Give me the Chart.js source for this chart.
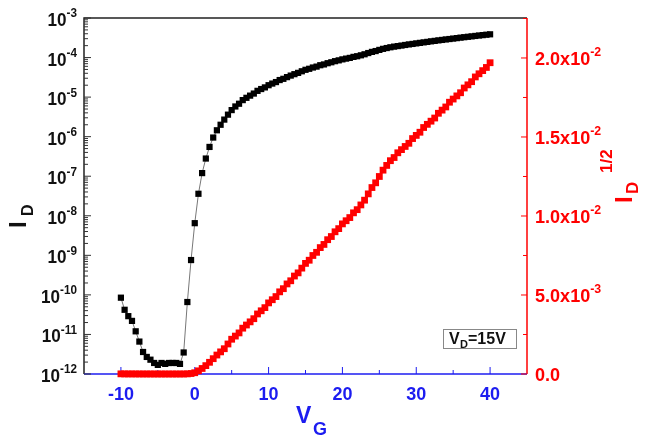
<!DOCTYPE html>
<html>
<head>
<meta charset="utf-8">
<script src="https://cdn.jsdelivr.net/npm/chart.js@4.4.1/dist/chart.umd.min.js"></script>
<style>
  html, body { margin: 0; padding: 0; background: #fff; }
  #wrap { width: 650px; height: 435px; position: relative; }
</style>
</head>
<body>
<div id="wrap"><canvas id="chart" width="650" height="435"></canvas></div>
<script>
// gate voltage sweep (V)
const vg = [
  -10, -9.5, -9, -8.5, -8, -7.5, -7, -6.5, -6, -5.5, -5, -4.5, -4, -3.5, -3, -2.5, -2, -1.5, -1, -0.5,
  0, 0.5, 1, 1.5, 2, 2.5, 3, 3.5, 4, 4.5, 5, 5.5, 6, 6.5, 7, 7.5, 8, 8.5, 9, 9.5,
  10, 10.5, 11, 11.5, 12, 12.5, 13, 13.5, 14, 14.5, 15, 15.5, 16, 16.5, 17, 17.5, 18, 18.5, 19, 19.5,
  20, 20.5, 21, 21.5, 22, 22.5, 23, 23.5, 24, 24.5, 25, 25.5, 26, 26.5, 27, 27.5, 28, 28.5, 29, 29.5,
  30, 30.5, 31, 31.5, 32, 32.5, 33, 33.5, 34, 34.5, 35, 35.5, 36, 36.5, 37, 37.5, 38, 38.5, 39, 39.5, 40
];

// drain current I_D (A), left log axis
const idData = [
  8.5e-11, 4.2e-11, 2.9e-11, 2.2e-11, 1.2e-11, 6.6e-12, 3.6e-12, 2.7e-12, 2.3e-12, 1.9e-12,
  1.7e-12, 1.9e-12, 1.8e-12, 1.9e-12, 1.9e-12, 1.9e-12, 1.8e-12, 3.5e-12, 6.6e-11, 7.6e-10,
  6.5e-9, 3.6e-8, 1.2e-7, 2.8e-7, 5.5e-7, 9.5e-7, 1.45e-6, 2.0e-6, 2.7e-6, 3.6e-6,
  4.7e-6, 5.8e-6, 6.8e-6, 8.4e-6, 9.6e-6, 1.09e-5, 1.23e-5, 1.44e-5, 1.6e-5, 1.76e-5,
  2.0e-5, 2.2e-5, 2.4e-5, 2.7e-5, 2.9e-5, 3.2e-5, 3.5e-5, 3.8e-5, 4.1e-5, 4.5e-5,
  4.9e-5, 5.2e-5, 5.6e-5, 5.9e-5, 6.4e-5, 6.7e-5, 7.2e-5, 7.6e-5, 8.1e-5, 8.5e-5,
  9.0e-5, 9.4e-5, 9.8e-5, 1.04e-4, 1.08e-4, 1.14e-4, 1.21e-4, 1.30e-4, 1.39e-4, 1.46e-4,
  1.56e-4, 1.66e-4, 1.74e-4, 1.82e-4, 1.89e-4, 1.95e-4, 2.01e-4, 2.08e-4, 2.15e-4, 2.21e-4,
  2.28e-4, 2.35e-4, 2.42e-4, 2.49e-4, 2.57e-4, 2.64e-4, 2.72e-4, 2.79e-4, 2.87e-4, 2.94e-4,
  3.02e-4, 3.10e-4, 3.19e-4, 3.27e-4, 3.35e-4, 3.43e-4, 3.52e-4, 3.61e-4, 3.69e-4, 3.78e-4, 3.87e-4
];

// sqrt(I_D), right linear axis
const sqrtIdData = [
  0.00001, 0.000006, 0.000005, 0.000005, 0.000003, 0.000003, 0.000002, 0.000002, 0.000002, 0.000001,
  0.000001, 0.000001, 0.000001, 0.000001, 0.000001, 0.000001, 0.000001, 0.000002, 0.000008, 0.00003,
  0.00008, 0.0002, 0.00035, 0.00053, 0.00074, 0.00097, 0.0012, 0.0014, 0.0016, 0.0019,
  0.0022, 0.0024, 0.0026, 0.0029, 0.0031, 0.0033, 0.0035, 0.0038, 0.0040, 0.0042,
  0.0045, 0.0047, 0.0049, 0.0052, 0.0054, 0.0057, 0.0059, 0.0062, 0.0064, 0.0067,
  0.0070, 0.0072, 0.0075, 0.0077, 0.0080, 0.0082, 0.0085, 0.0087, 0.0090, 0.0092,
  0.0095, 0.0097, 0.0099, 0.0102, 0.0104, 0.0107, 0.0110, 0.0114, 0.0118, 0.0121,
  0.0125, 0.0129, 0.0132, 0.0135, 0.0137, 0.0140, 0.0142, 0.0144, 0.0146, 0.0149,
  0.0151, 0.0153, 0.0156, 0.0158, 0.0160, 0.0162, 0.0165, 0.0167, 0.0169, 0.0172,
  0.0174, 0.0176, 0.0178, 0.0181, 0.0183, 0.0185, 0.0188, 0.0190, 0.0192, 0.0194, 0.0197
];

// tick labels
const xTicks = [-10, 0, 10, 20, 30, 40];
const xMinorTicks = [-15, -5, 5, 15, 25, 35];
const leftDecades = [-3, -4, -5, -6, -7, -8, -9, -10, -11, -12];
const rightTicks = [0, 0.005, 0.01, 0.015, 0.02];
const rightTickBase = ['0.0', '5.0x10', '1.0x10', '1.5x10', '2.0x10'];
const rightTickExp = ['', '-3', '-2', '-2', '-2'];
const rightMinorTicks = [0.0025, 0.0075, 0.0125, 0.0175, 0.0225];

const BLUE = '#1c1cf0';
const RED = '#ff0000';
const FONT = '"Liberation Sans", Arial, sans-serif';

function font(size) { return 'bold ' + size + 'px ' + FONT; }

// text with a raised exponent; align 'right' or 'left' around x
function drawSup(ctx, base, exp, x, baseline, size, expSize, color, align, sx) {
    ctx.save();
    ctx.fillStyle = color;
    ctx.textBaseline = 'alphabetic';
    ctx.textAlign = 'left';
    ctx.font = font(size);
    const bw = ctx.measureText(base).width * sx;
    ctx.font = font(expSize);
    const ew = exp ? ctx.measureText(exp).width * sx : 0;
    const x0 = align === 'right' ? x - bw - ew : x;
    ctx.translate(x0, 0);
    ctx.scale(sx, 1);
    ctx.font = font(size);
    ctx.fillText(base, 0, baseline);
    if (exp) {
        ctx.font = font(expSize);
        ctx.fillText(exp, bw / sx, baseline - size * 0.45);
    }
    ctx.restore();
}

const axesPlugin = {
    id: 'axesPlugin',
    beforeDatasetsDraw(chart) {
        const ctx = chart.ctx;
        const a = chart.chartArea;
        const xs = chart.scales.x, yl = chart.scales.y, yr = chart.scales.y2;
        ctx.save();
        ctx.lineWidth = 1.5;

        // frame
        ctx.strokeStyle = '#222';
        ctx.beginPath();
        ctx.moveTo(a.left, a.bottom); ctx.lineTo(a.left, a.top); ctx.lineTo(a.right, a.top);
        ctx.stroke();
        ctx.strokeStyle = RED;
        ctx.beginPath(); ctx.moveTo(a.right, a.top); ctx.lineTo(a.right, a.bottom); ctx.stroke();
        ctx.strokeStyle = BLUE;
        ctx.beginPath(); ctx.moveTo(a.left, a.bottom); ctx.lineTo(a.right, a.bottom); ctx.stroke();

        ctx.lineWidth = 1;
        // bottom ticks (inward)
        ctx.strokeStyle = BLUE;
        xTicks.forEach(v => {
            const px = xs.getPixelForValue(v);
            ctx.beginPath(); ctx.moveTo(px, a.bottom); ctx.lineTo(px, a.bottom - 7); ctx.stroke();
        });
        xMinorTicks.forEach(v => {
            const px = xs.getPixelForValue(v);
            if (px <= a.left + 1) return;
            ctx.beginPath(); ctx.moveTo(px, a.bottom); ctx.lineTo(px, a.bottom - 4); ctx.stroke();
        });

        // left log ticks
        ctx.strokeStyle = '#333';
        leftDecades.forEach(e => {
            const py = yl.getPixelForValue(Math.pow(10, e));
            ctx.beginPath(); ctx.moveTo(a.left, py); ctx.lineTo(a.left + 7, py); ctx.stroke();
            if (e > -3) return;
            [2, 3, 4, 5, 6, 7, 8, 9].forEach(m => {
                const v = m * Math.pow(10, e);
                if (v > 1e-3) return;
                const pm = yl.getPixelForValue(v);
                ctx.beginPath(); ctx.moveTo(a.left, pm); ctx.lineTo(a.left + 4, pm); ctx.stroke();
            });
        });

        // right ticks
        ctx.strokeStyle = RED;
        rightTicks.forEach(v => {
            const py = yr.getPixelForValue(v);
            ctx.beginPath(); ctx.moveTo(a.right, py); ctx.lineTo(a.right - 6, py); ctx.stroke();
        });
        rightMinorTicks.forEach(v => {
            const py = yr.getPixelForValue(v);
            if (py < a.top) return;
            ctx.beginPath(); ctx.moveTo(a.right, py); ctx.lineTo(a.right - 4, py); ctx.stroke();
        });
        ctx.restore();
    },
    afterDraw(chart) {
        const ctx = chart.ctx;
        const a = chart.chartArea;
        const xs = chart.scales.x, yl = chart.scales.y, yr = chart.scales.y2;

        // x tick labels
        ctx.save();
        ctx.font = font(18);
        ctx.fillStyle = BLUE;
        ctx.textAlign = 'center';
        ctx.textBaseline = 'alphabetic';
        xTicks.forEach(v => ctx.fillText(String(v), xs.getPixelForValue(v), 400));
        ctx.restore();

        // left decade labels
        leftDecades.forEach(e => {
            const py = yl.getPixelForValue(Math.pow(10, e));
            drawSup(ctx, '10', String(e), 77, py + 8, 19, 13, '#111', 'right', 0.9);
        });

        // right labels
        rightTicks.forEach((v, i) => {
            const py = yr.getPixelForValue(v);
            drawSup(ctx, rightTickBase[i], rightTickExp[i], 535, py + 7, 19, 13, RED, 'left', 0.95);
        });

        // x title V_G
        ctx.save();
        ctx.fillStyle = BLUE;
        ctx.textBaseline = 'alphabetic';
        ctx.textAlign = 'left';
        ctx.font = font(23);
        ctx.fillText('V', 296, 423);
        ctx.font = font(18);
        ctx.fillText('G', 313, 435);
        ctx.restore();

        // left title I_D (rotated)
        ctx.save();
        ctx.fillStyle = '#111';
        ctx.translate(26, 228);
        ctx.rotate(-Math.PI / 2);
        ctx.textAlign = 'left';
        ctx.textBaseline = 'alphabetic';
        ctx.font = font(24);
        ctx.fillText('I', 0, 0);
        ctx.font = font(16);
        ctx.fillText('D', 12, 7);
        ctx.restore();

        // right title I_D^1/2 (rotated)
        ctx.save();
        ctx.fillStyle = RED;
        ctx.translate(632, 203);
        ctx.rotate(-Math.PI / 2);
        ctx.textAlign = 'left';
        ctx.textBaseline = 'alphabetic';
        ctx.font = font(24);
        ctx.fillText('I', 0, 0);
        ctx.font = font(17);
        ctx.fillText('D', 9, 6);
        ctx.font = font(17);
        ctx.fillText('1/2', 30, -20);
        ctx.restore();

        // V_D = 15V box
        ctx.save();
        ctx.strokeStyle = '#888';
        ctx.lineWidth = 1;
        ctx.strokeRect(443.5, 329.5, 73, 19);
        ctx.fillStyle = '#111';
        ctx.textBaseline = 'alphabetic';
        ctx.textAlign = 'left';
        ctx.font = font(16);
        ctx.fillText('V', 449, 344);
        ctx.font = font(11);
        ctx.fillText('D', 460, 348);
        ctx.font = font(16);
        ctx.fillText('=15V', 468, 344);
        ctx.restore();
    }
};

new Chart(document.getElementById('chart').getContext('2d'), {
    type: 'line',
    data: {
        datasets: [
            {
                label: 'I_D',
                data: vg.map((v, i) => ({ x: v, y: idData[i] })),
                yAxisID: 'y',
                borderColor: '#777',
                borderWidth: 1,
                pointStyle: 'rect',
                pointRadius: 4.4,
                pointBackgroundColor: '#000',
                pointBorderColor: '#000',
                pointBorderWidth: 0,
                tension: 0,
                clip: 8
            },
            {
                label: 'sqrt I_D',
                data: vg.map((v, i) => ({ x: v, y: sqrtIdData[i] })),
                yAxisID: 'y2',
                borderColor: RED,
                borderWidth: 2,
                pointStyle: 'rect',
                pointRadius: 4.8,
                pointBackgroundColor: RED,
                pointBorderColor: RED,
                pointBorderWidth: 0,
                tension: 0,
                clip: 8
            }
        ]
    },
    options: {
        responsive: false,
        animation: false,
        events: [],
        layout: { padding: { top: 18, left: 0, right: 0, bottom: 0 } },
        plugins: { legend: { display: false }, tooltip: { enabled: false } },
        scales: {
            x: {
                type: 'linear',
                min: -15,
                max: 45,
                grid: { display: false },
                border: { display: false },
                ticks: { display: false },
                afterFit: s => { s.height = 61; }
            },
            y: {
                type: 'logarithmic',
                position: 'left',
                min: 1e-12,
                max: 1e-3,
                grid: { display: false },
                border: { display: false },
                ticks: { display: false },
                afterFit: s => { s.width = 84; }
            },
            y2: {
                type: 'linear',
                position: 'right',
                min: 0,
                max: 0.02253,
                grid: { display: false },
                border: { display: false },
                ticks: { display: false },
                afterFit: s => { s.width = 123; }
            }
        }
    },
    plugins: [axesPlugin]
});
</script>
</body>
</html>
